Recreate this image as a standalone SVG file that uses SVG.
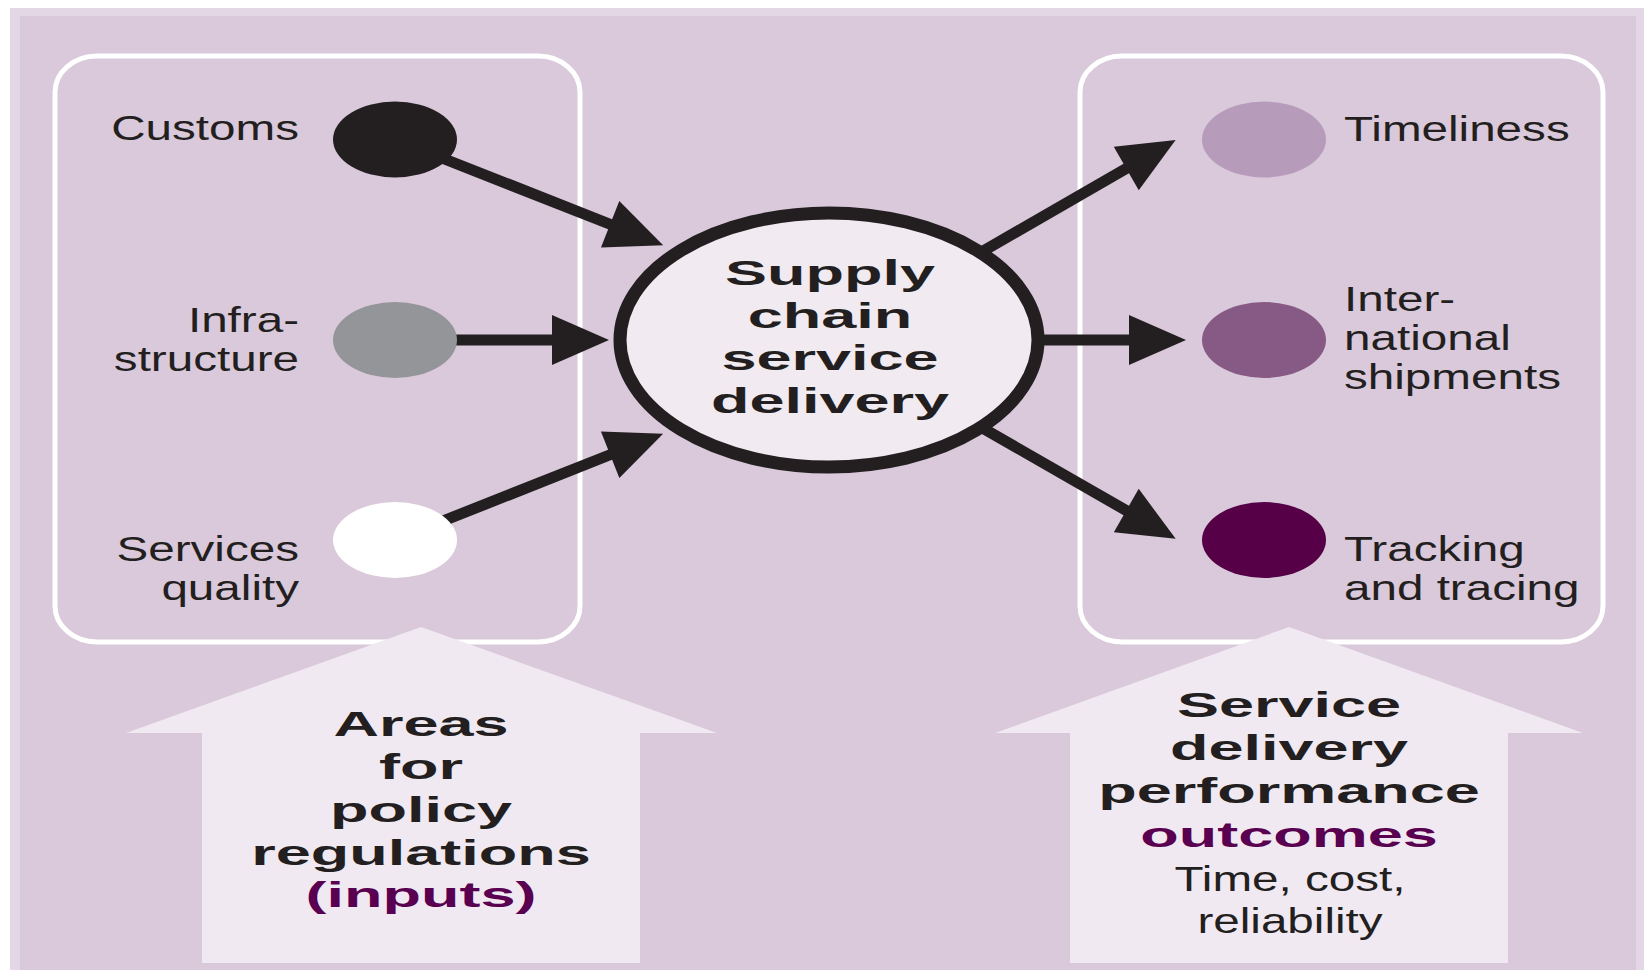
<svg xmlns="http://www.w3.org/2000/svg" width="1644" height="970" viewBox="0 0 1644 970">
<style>
.lbl{font-family:"Liberation Sans",Arial,sans-serif;font-size:34.5px;fill:#231f20}
.bold{font-family:"Liberation Sans",Arial,sans-serif;font-size:36px;font-weight:bold;fill:#231f20}
.pur{fill:#5a0050}
.conn{stroke:#231f20;stroke-width:11;fill:none}
.box{fill:none;stroke:#ffffff;stroke-width:5}
.bigarrow{fill:#f1e9f1}
</style>
<defs>
<marker id="ah" markerUnits="userSpaceOnUse" orient="auto" refX="0" refY="0" markerWidth="60" markerHeight="60" overflow="visible">
<path d="M-2,-25 L55,0 L-2,25 z" fill="#231f20"/>
</marker>
</defs>
<rect x="0" y="0" width="1644" height="970" fill="#ffffff"/>
<rect x="10" y="8" width="1634" height="962" fill="#e3d6e5"/>
<rect x="20" y="16" width="1616" height="954" fill="#d9c9da"/>
<g id="input-box">
<rect class="box" x="55" y="56" width="525" height="586" rx="42" ry="36"/>
</g>
<g id="output-box">
<rect class="box" x="1080" y="56" width="523" height="586" rx="42" ry="36"/>
</g>
<g id="inputs-arrow">
<polygon class="bigarrow" points="421,627 717,733 640,733 640,963 202,963 202,733 126,733"/>
<text class="bold" text-anchor="middle" transform="translate(421,736) scale(1.75,1)">Areas</text>
<text class="bold" text-anchor="middle" transform="translate(421,779) scale(1.75,1)">for</text>
<text class="bold" text-anchor="middle" transform="translate(421,822) scale(1.75,1)">policy</text>
<text class="bold" text-anchor="middle" transform="translate(421,865) scale(1.75,1)">regulations</text>
<text class="bold pur" text-anchor="middle" transform="translate(421,907) scale(1.75,1)">(inputs)</text>
</g>
<g id="outcomes-arrow">
<polygon class="bigarrow" points="1289,627 1583,733 1508,733 1508,963 1070,963 1070,733 995,733"/>
<text class="bold" text-anchor="middle" transform="translate(1289,717) scale(1.75,1)">Service</text>
<text class="bold" text-anchor="middle" transform="translate(1289,760) scale(1.75,1)">delivery</text>
<text class="bold" text-anchor="middle" transform="translate(1289,803) scale(1.75,1)">performance</text>
<text class="bold pur" text-anchor="middle" transform="translate(1289,847) scale(1.75,1)">outcomes</text>
<text class="lbl" text-anchor="middle" transform="translate(1290,891) scale(1.38,1)">Time, cost,</text>
<text class="lbl" text-anchor="middle" transform="translate(1290,933) scale(1.38,1)">reliability</text>
</g>
<g id="connectors">
<line class="conn" x1="395" y1="139.5" x2="612" y2="225" marker-end="url(#ah)"/>
<line class="conn" x1="395" y1="340" x2="554" y2="340" marker-end="url(#ah)"/>
<line class="conn" x1="395" y1="540" x2="612" y2="454" marker-end="url(#ah)"/>
<line class="conn" x1="829" y1="340" x2="1128" y2="167.5" marker-end="url(#ah)"/>
<line class="conn" x1="829" y1="340" x2="1131" y2="340" marker-end="url(#ah)"/>
<line class="conn" x1="829" y1="340" x2="1128" y2="511.5" marker-end="url(#ah)"/>
</g>
<g id="customs">
<ellipse cx="395" cy="139.5" rx="62" ry="38" fill="#231f20"/>
<text class="lbl" text-anchor="end" transform="translate(299,140) scale(1.38,1)">Customs</text>
</g>
<g id="infrastructure">
<ellipse cx="395" cy="340" rx="62" ry="38" fill="#939598"/>
<text class="lbl" text-anchor="end" transform="translate(299,332) scale(1.38,1)">Infra-</text>
<text class="lbl" text-anchor="end" transform="translate(299,371) scale(1.38,1)">structure</text>
</g>
<g id="services-quality">
<ellipse cx="395" cy="540" rx="62" ry="38" fill="#ffffff"/>
<text class="lbl" text-anchor="end" transform="translate(299,561) scale(1.38,1)">Services</text>
<text class="lbl" text-anchor="end" transform="translate(299,600) scale(1.38,1)">quality</text>
</g>
<g id="supply-chain">
<ellipse cx="829" cy="340" rx="209" ry="127" fill="#f1eaf1" stroke="#231f20" stroke-width="13"/>
<text class="bold" text-anchor="middle" transform="translate(830,285) scale(1.75,1)">Supply</text>
<text class="bold" text-anchor="middle" transform="translate(830,328) scale(1.75,1)">chain</text>
<text class="bold" text-anchor="middle" transform="translate(830,370) scale(1.75,1)">service</text>
<text class="bold" text-anchor="middle" transform="translate(830,413) scale(1.75,1)">delivery</text>
</g>
<g id="timeliness">
<ellipse cx="1264" cy="139.5" rx="62" ry="38" fill="#b79bbb"/>
<text class="lbl" transform="translate(1344,141) scale(1.38,1)">Timeliness</text>
</g>
<g id="international-shipments">
<ellipse cx="1264" cy="340" rx="62" ry="38" fill="#865a85"/>
<text class="lbl" transform="translate(1344,311) scale(1.38,1)">Inter-</text>
<text class="lbl" transform="translate(1344,350) scale(1.38,1)">national</text>
<text class="lbl" transform="translate(1344,389) scale(1.38,1)">shipments</text>
</g>
<g id="tracking-tracing">
<ellipse cx="1264" cy="540" rx="62" ry="38" fill="#560048"/>
<text class="lbl" transform="translate(1344,561) scale(1.38,1)">Tracking</text>
<text class="lbl" transform="translate(1344,600) scale(1.38,1)">and tracing</text>
</g>
</svg>
